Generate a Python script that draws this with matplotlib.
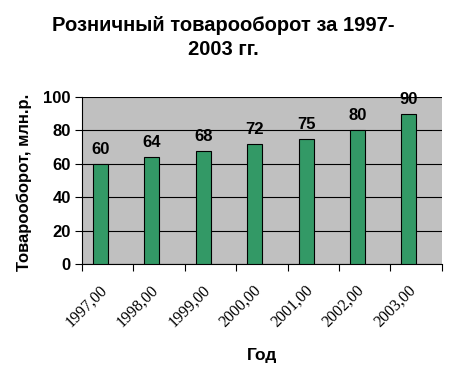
import matplotlib.pyplot as plt
import numpy as np

years = ['1997,00', '1998,00', '1999,00', '2000,00', '2001,00', '2002,00', '2003,00']
values = [60, 64, 68, 72, 75, 80, 90]

plt.rcParams['font.family'] = ['Liberation Sans', 'DejaVu Sans']

fig = plt.figure(figsize=(4.49, 3.72), dpi=100)
ax = fig.add_axes([0.1826, 0.290, 0.8014, 0.449])

x = np.arange(len(years))
ax.bar(x - 0.14, values, width=0.29, color='#339966', edgecolor='black',
       linewidth=0.8, zorder=3)
for xi, v in zip(x, values):
    ax.text(xi - 0.14, v + 6, str(v), ha='center', va='baseline',
            fontsize=12, fontweight='bold', zorder=4)

ax.set_facecolor('#c0c0c0')
ax.set_xlim(-0.5, len(years) - 0.5)
ax.set_ylim(0, 100)
ax.set_yticks(range(0, 101, 20))
ax.yaxis.grid(True, color='black', linewidth=0.8, zorder=0)
ax.set_xticks(np.arange(len(years) + 1) - 0.5, minor=False)
ax.set_xticklabels([])
ax.set_xticks(x - 0.17, minor=True)
ax.set_xticklabels(years, minor=True, rotation=45, ha='right', va='top',
                   rotation_mode='anchor', family='Liberation Serif', fontsize=11.5)
ax.tick_params(axis='x', which='minor', length=0, pad=13)
ax.tick_params(axis='x', which='major', length=5, direction='out', color='black')
ax.tick_params(axis='y', length=5, labelsize=12, width=0.8, pad=3)
for lbl in ax.get_yticklabels():
    lbl.set_fontweight('bold')

for side in ['top', 'right']:
    ax.spines[side].set_visible(False)
for side in ['left', 'bottom']:
    ax.spines[side].set_color('black')

ax.set_ylabel('Товарооборот, млн.р.', fontsize=12, fontweight='bold')
ax.yaxis.set_label_coords(-0.139, 0.49)
fig.text(0.584, 0.032, 'Год', ha='center', va='baseline', fontsize=12.5, fontweight='bold')
fig.text(0.497, 0.917, 'Розничный товарооборот за 1997-', ha='center', va='baseline',
         fontsize=14.5, fontweight='bold')
fig.text(0.497, 0.852, '2003 гг.', ha='center', va='baseline',
         fontsize=14.5, fontweight='bold')

fig.savefig('out.png', dpi=100)
